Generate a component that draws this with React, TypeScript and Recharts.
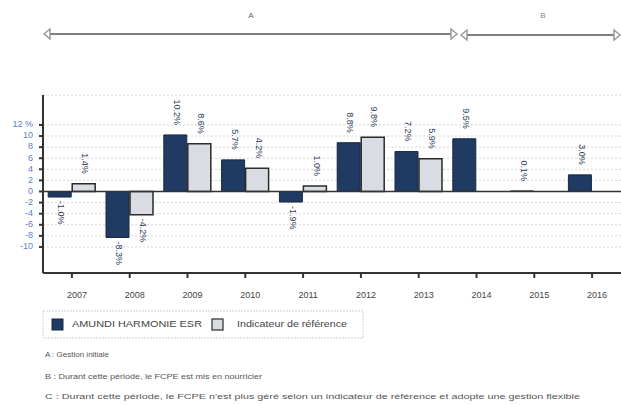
import React from "react";
import {
  BarChart,
  Bar,
  XAxis,
  YAxis,
  CartesianGrid,
  ReferenceLine,
  LabelList,
} from "recharts";

const years = ["2007", "2008", "2009", "2010", "2011", "2012", "2013", "2014", "2015", "2016"];
const fund = [-1.0, -8.3, 10.2, 5.7, -1.9, 8.8, 7.2, 9.5, 0.1, 3.0];
const benchmark = [1.4, -4.2, 8.6, 4.2, 1.0, 9.8, 5.9, null, null, null];
const yTicks = [-10, -8, -6, -4, -2, 0, 2, 4, 6, 8, 10, 12];

const fundName = "AMUNDI HARMONIE ESR";
const benchName = "Indicateur de référence";
const notes = [
  "A : Gestion initiale",
  "B : Durant cette période, le FCPE est mis en nourricier",
  "C : Durant cette période, le FCPE n'est plus géré selon un indicateur de référence et adopte une gestion flexible",
];

const data = years.map((year, i) => ({ year, fund: fund[i], bench: benchmark[i] }));

const FONT = "'Liberation Sans', Arial, sans-serif";

function ValueLabel(props: any) {
  const { x, y, width, height, value } = props;
  if (value === null || value === undefined) return null;
  const top = Math.min(y, y + height);
  const bottom = Math.max(y, y + height);
  const cx = x + width / 2 + 1;
  const text = value.toFixed(1) + "%";
  const py = value >= 0 ? top - 10 : bottom + 4;
  return (
    <text x={cx} y={py} transform={`rotate(90 ${cx} ${py})`} textAnchor={value >= 0 ? "end" : "start"}
      dominantBaseline="middle" fontSize={9} fontFamily={FONT} fill="#2b3a55">
      {text}
    </text>
  );
}

function YTick(props: any) {
  const { x, y, payload } = props;
  const v = payload.value;
  return (
    <text x={x - 4} y={y} textAnchor="end" dominantBaseline="middle" fontSize={9}
      fontFamily={FONT} fill="#5b80c4">
      {v === 12 ? "12 %" : String(v)}
    </text>
  );
}

function XTick(props: any) {
  const { x, y, payload } = props;
  return (
    <text x={x + 5} y={y + 16} textAnchor="middle" dominantBaseline="middle" fontSize={9}
      fontFamily={FONT} fill="#444">
      {payload.value}
    </text>
  );
}

function Arrow({ x1, x2, y }: { x1: number; x2: number; y: number }) {
  return (
    <g>
      <line x1={x1 + 5} y1={y} x2={x2 - 5} y2={y} stroke="#555" strokeWidth={1.5} />
      <polygon points={`${x1},${y} ${x1 + 6},${y - 5} ${x1 + 6},${y + 5}`} fill="#fff" stroke="#999" strokeWidth={1.5} />
      <polygon points={`${x2},${y} ${x2 - 6},${y - 5} ${x2 - 6},${y + 5}`} fill="#fff" stroke="#999" strokeWidth={1.5} />
    </g>
  );
}

export default function App() {
  return (
    <div style={{ position: "absolute", left: 0, top: 0, width: 621, height: 405, background: "#fff" }}>
      <svg width={621} height={60} style={{ position: "absolute", left: 0, top: 0 }}>
        <text x={251} y={18} textAnchor="middle" fontSize={8} fontFamily={FONT} fill="#666">A</text>
        <text x={543} y={18} textAnchor="middle" fontSize={8} fontFamily={FONT} fill="#888">B</text>
        <Arrow x1={44} x2={457} y={34} />
        <Arrow x1={461} x2={620} y={35} />
      </svg>

      <div style={{ position: "absolute", left: 0, top: 0 }}>
        <BarChart
          width={621}
          height={310}
          data={data}
          margin={{ top: 95, right: 0, bottom: 0, left: 0 }}
          barCategoryGap="9%"
          barGap={1}
        >
          <CartesianGrid vertical={false} stroke="#d6d6d6" strokeDasharray="2 2" />
          <XAxis
            dataKey="year"
            height={37}
            stroke="#333"
            strokeWidth={2}
            tickSize={5}
            tick={<XTick />}
            interval={0}
          />
          <YAxis
            width={43}
            domain={[-14.7, 17.4]}
            ticks={yTicks}
            allowDataOverflow
            stroke="#333"
            strokeWidth={2}
            tickSize={4}
            tick={<YTick />}
            interval={0}
          />
          <ReferenceLine y={0} stroke="#333" strokeWidth={1.5} />
          <Bar dataKey="fund" fill="#1f3b63" stroke="#18283f" strokeWidth={1} isAnimationActive={false}>
            <LabelList dataKey="fund" content={<ValueLabel />} />
          </Bar>
          <Bar dataKey="bench" fill="#d9dce2" stroke="#2a2a2a" strokeWidth={1.5} isAnimationActive={false}>
            <LabelList dataKey="bench" content={<ValueLabel />} />
          </Bar>
        </BarChart>
      </div>

      <svg width={621} height={100} style={{ position: "absolute", left: 0, top: 305 }}>
        <rect x={43} y={6} width={320} height={27} fill="none" stroke="#cfcfcf" strokeDasharray="2 1" />
        <rect x={52} y={14} width={11} height={11} fill="#1f3b63" stroke="#18283f" />
        <text x={72} y={20} dominantBaseline="middle" fontSize={9} fontFamily={FONT} fill="#444"
          textLength={130} lengthAdjust="spacingAndGlyphs">{fundName}</text>
        <rect x={212} y={14} width={11} height={11} fill="#d9dce2" stroke="#2a2a2a" strokeWidth={1.2} />
        <text x={237} y={20} dominantBaseline="middle" fontSize={9} fontFamily={FONT} fill="#444"
          textLength={110} lengthAdjust="spacingAndGlyphs">{benchName}</text>
        <text x={45} y={50} dominantBaseline="middle" fontSize={8} fontFamily={FONT} fill="#555">{notes[0]}</text>
        <text x={45} y={72} dominantBaseline="middle" fontSize={8} fontFamily={FONT} fill="#555"
          textLength={217} lengthAdjust="spacingAndGlyphs">{notes[1]}</text>
        <text x={45} y={92} dominantBaseline="middle" fontSize={8} fontFamily={FONT} fill="#555"
          textLength={535} lengthAdjust="spacingAndGlyphs">{notes[2]}</text>
      </svg>
    </div>
  );
}
